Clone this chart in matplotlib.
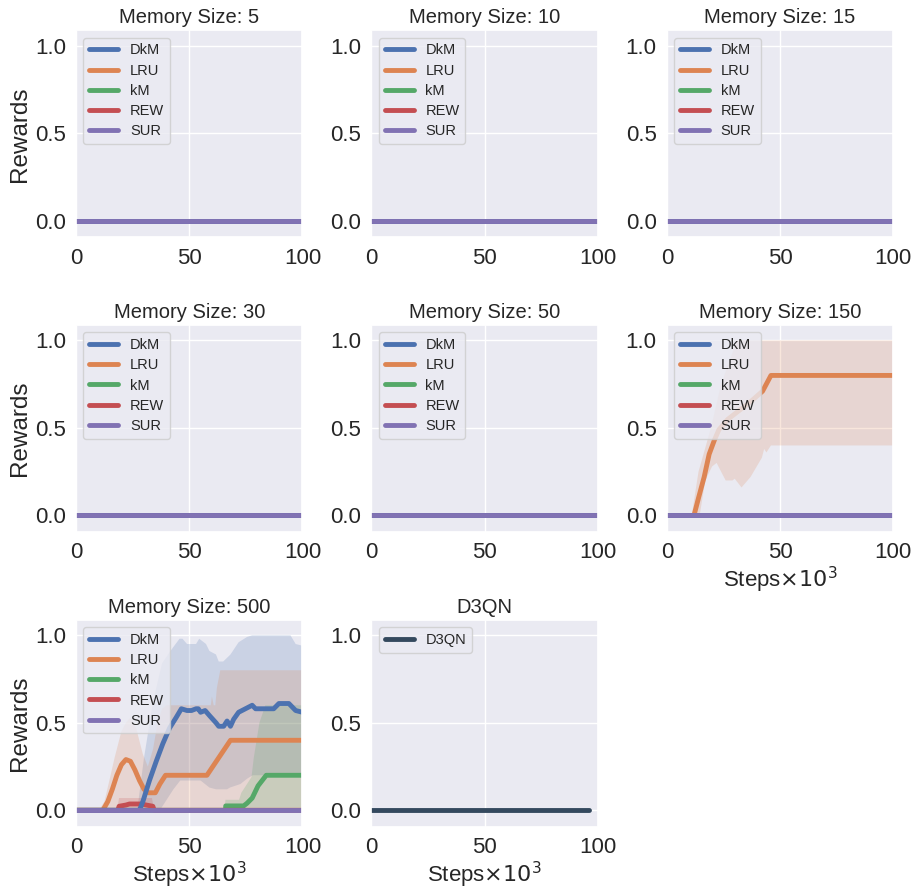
#!/usr/bin/env python3
import numpy as np
import matplotlib
matplotlib.use("Agg")
import matplotlib.pyplot as plt
import seaborn as sns

sns.set_theme(style="darkgrid")
plt.rcParams["font.family"] = ["Liberation Sans", "DejaVu Sans"]

METHODS = ["DkM", "LRU", "kM", "REW", "SUR"]
COLORS = ["#4C72B0", "#DD8452", "#55A868", "#C44E52", "#8172B3"]
MEM_SIZES = [5, 10, 15, 30, 50, 150, 500]

# flat runs: every method stays at zero over the whole budget
FLAT_X = [0, 100]
FLAT_Y = [0, 0]

# memory 150, LRU
LRU150_X = [0, 12, 14, 16.5, 18.7, 21, 23, 27, 32, 37, 42.3, 46, 100]
LRU150_Y = [0, 0, 0.1, 0.22, 0.35, 0.43, 0.49, 0.55, 0.6, 0.65, 0.71, 0.8, 0.8]
LRU150_HI_X = [0, 11, 14, 19.5, 24, 31, 100]
LRU150_HI_Y = [0, 0, 0.25, 0.5, 0.75, 1.0, 1.0]
LRU150_LO_X = [0, 14.5, 17, 20, 22, 26, 29, 30, 33, 37, 42, 43, 44, 46, 100]
LRU150_LO_Y = [0, 0, 0.2, 0.28, 0.3, 0.2, 0.2, 0.21, 0.16, 0.22, 0.33, 0.38, 0.36, 0.4, 0.4]

# memory 500
DKM500_X = [0, 28, 29.5, 32.4, 35.4, 38.3, 41.3, 44.2, 46.5, 49, 51, 53, 54, 55, 57, 59,
            61.8, 63, 65.2, 66.7, 68.2, 69.6, 71.8, 74.8, 77.8, 79.3, 87.3, 89.6, 94, 97, 100]
DKM500_Y = [0, 0, 0.05, 0.17, 0.28, 0.38, 0.47, 0.53, 0.58, 0.57, 0.57, 0.58, 0.58, 0.56, 0.57, 0.54,
            0.5, 0.48, 0.48, 0.51, 0.48, 0.52, 0.56, 0.58, 0.6, 0.58, 0.58, 0.61, 0.61, 0.57, 0.56]
DKM500_HI_X = [0, 27, 30, 34, 38, 42.8, 45.7, 47, 49, 53, 54.4, 57.4, 58.9, 61.8, 63, 65,
               68.2, 71.8, 75.5, 77.8, 94.7, 97, 100]
DKM500_HI_Y = [0, 0, 0.3, 0.62, 0.84, 0.93, 0.98, 0.98, 0.95, 0.95, 0.98, 0.95, 0.91, 0.89, 0.85, 0.85,
               0.89, 0.96, 0.99, 1.0, 1.0, 0.95, 0.94]
DKM500_LO_X = [0, 37, 40, 43, 46, 55, 58.9, 61.8, 66.7, 68, 72.6, 75.5, 78, 100]
DKM500_LO_Y = [0, 0, 0.06, 0.12, 0.17, 0.17, 0.13, 0.12, 0.12, 0.13, 0.15, 0.18, 0.2, 0.2]

LRU500_X = [0, 11.8, 14, 16, 18, 20, 22, 24, 26, 28, 30, 32, 35, 37, 39.5, 57.8, 68.2, 100]
LRU500_Y = [0, 0, 0.05, 0.12, 0.2, 0.26, 0.29, 0.28, 0.23, 0.17, 0.12, 0.1, 0.1, 0.15, 0.2, 0.2, 0.4, 0.4]
LRU500_HI_X = [0, 10, 12.5, 14.7, 17, 20, 22, 24, 26.5, 29.5, 31.7, 34, 36, 38, 40,
               59.5, 60, 60.8, 61.5, 62.2, 63.7, 100]
LRU500_HI_Y = [0, 0, 0.05, 0.17, 0.3, 0.45, 0.5, 0.53, 0.47, 0.32, 0.25, 0.35, 0.5, 0.58, 0.6,
               0.6, 0.65, 0.6, 0.6, 0.7, 0.8, 0.8]
LRU500_LO_X = [0, 100]
LRU500_LO_Y = [0, 0]

KM500_X = [0, 66, 66.1, 74, 75.5, 77.8, 80.4, 84, 100]
KM500_Y = [0, 0, 0.025, 0.025, 0.04, 0.07, 0.14, 0.2, 0.2]
KM500_HI_X = [0, 65.5, 66, 72, 73, 77.5, 78.5, 81, 83.6, 100]
KM500_HI_Y = [0, 0, 0.06, 0.06, 0.1, 0.19, 0.3, 0.5, 0.6, 0.6]
KM500_LO_X = [0, 100]
KM500_LO_Y = [0, 0]

REW500_X = [0, 18.4, 19, 22, 23.6, 28.8, 31, 33.9, 34.5, 100]
REW500_Y = [0, 0, 0.023, 0.03, 0.036, 0.036, 0.03, 0.023, 0, 0]
REW500_HI_X = [0, 18, 19, 33.5, 34.5, 100]
REW500_HI_Y = [0, 0, 0.07, 0.07, 0, 0]
REW500_LO_X = [0, 100]
REW500_LO_Y = [0, 0]

D3QN_X = [0, 96]
D3QN_Y = [0, 0]
D3QN_COLOR = "#34495e"


def flat(_):
    return (FLAT_X, FLAT_Y), None


runs = {m: {k: flat(k) for k in METHODS} for m in MEM_SIZES}
runs[150]["LRU"] = ((LRU150_X, LRU150_Y),
                    (LRU150_HI_X, LRU150_HI_Y, LRU150_LO_X, LRU150_LO_Y))
runs[500]["DkM"] = ((DKM500_X, DKM500_Y),
                    (DKM500_HI_X, DKM500_HI_Y, DKM500_LO_X, DKM500_LO_Y))
runs[500]["LRU"] = ((LRU500_X, LRU500_Y),
                    (LRU500_HI_X, LRU500_HI_Y, LRU500_LO_X, LRU500_LO_Y))
runs[500]["kM"] = ((KM500_X, KM500_Y),
                   (KM500_HI_X, KM500_HI_Y, KM500_LO_X, KM500_LO_Y))
runs[500]["REW"] = ((REW500_X, REW500_Y),
                    (REW500_HI_X, REW500_HI_Y, REW500_LO_X, REW500_LO_Y))

LINE_Z = {"LRU": 2.0, "kM": 2.1, "REW": 2.2, "DkM": 2.3, "SUR": 2.4}
XLABEL = r"Steps$\times10^3$"
LW = 3.5


def style_axis(ax, title, left, bottom):
    ax.set_title(title, fontsize=14.5, pad=5)
    ax.set_xlim(0, 100)
    ax.set_ylim(-0.095, 1.087)
    ax.set_xticks([0, 50, 100])
    ax.set_yticks([0.0, 0.5, 1.0])
    ax.tick_params(labelsize=16, length=0, pad=7.4)
    if left:
        ax.set_ylabel("Rewards", fontsize=17.5, labelpad=3)
    if bottom:
        ax.set_xlabel(XLABEL, fontsize=16, labelpad=1)


fig, axes = plt.subplots(3, 3, figsize=(9.17, 8.93), dpi=100)
fig.subplots_adjust(left=0.083, right=0.974, top=0.966, bottom=0.074,
                    wspace=0.305, hspace=0.425)
flat_axes = axes.ravel()

for i, mem in enumerate(MEM_SIZES):
    ax = flat_axes[i]
    for name, color in zip(METHODS, COLORS):
        (xs, ys), band = runs[mem][name]
        if band is not None:
            hx, hy, lx, ly = band
            ax.fill(np.r_[hx, lx[::-1]], np.r_[hy, ly[::-1]], color=color,
                    alpha=0.2, lw=0, zorder=1.5)
        ax.plot(xs, ys, color=color, lw=LW, label=name,
                solid_capstyle="round", zorder=LINE_Z[name])
    ax.legend(loc="upper left", fontsize=10.5, labelspacing=0.42)
    row, col = divmod(i, 3)
    style_axis(ax, f"Memory Size: {mem}", col == 0, mem in (150, 500))

ax = flat_axes[7]
ax.plot(D3QN_X, D3QN_Y, color=D3QN_COLOR, lw=LW, label="D3QN", solid_capstyle="round")
ax.legend(loc="upper left", fontsize=10.5)
style_axis(ax, "D3QN", False, True)

flat_axes[8].axis("off")

fig.savefig("out.png", dpi=100)
